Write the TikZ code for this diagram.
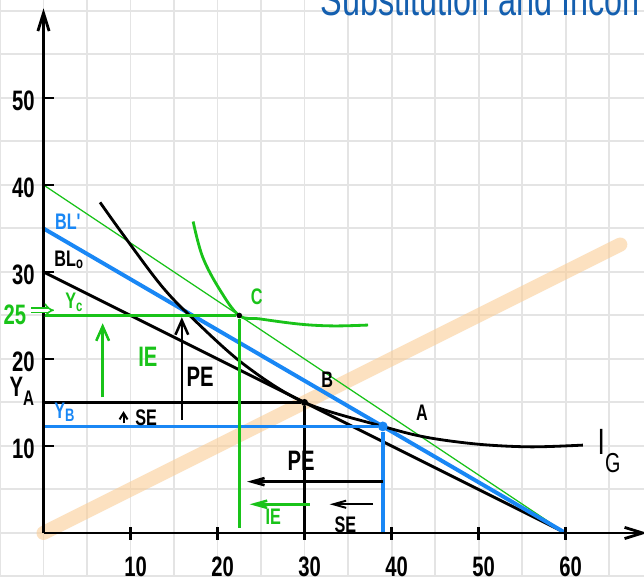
\documentclass[tikz,border=0pt]{standalone}
\usepackage{fontspec}
\newfontfamily\handfont[FakeStretch=0.72]{Liberation Sans}
\usetikzlibrary{arrows.meta}
\definecolor{hgreen}{RGB}{25,195,25}
\definecolor{hblue}{RGB}{25,135,245}
\definecolor{titleblue}{RGB}{20,95,175}
\definecolor{peach}{RGB}{250,205,150}
\definecolor{gridgray}{RGB}{228,228,228}

\begin{document}
\begin{tikzpicture}[
    x=0.2175cm, y=0.2175cm,
    font=\handfont\bfseries\fontsize{20}{22}\selectfont,
    gridline/.style={draw=gridgray, line width=1.4pt},
    axis/.style={line width=2pt, -{Straight Barb[length=4.5mm, width=2.8mm]}},
    tickmark/.style={line width=2pt},
    budget/.style={line width=2.1pt},
    budgetb/.style={hblue, line width=2.8pt},
    budgetg/.style={hgreen, line width=0.9pt},
    guide/.style={line width=2pt},
    guideb/.style={hblue, line width=2.4pt},
    guideg/.style={hgreen, line width=2pt},
    incpath/.style={peach, opacity=0.6, line width=10pt, line cap=round},
    icurve/.style={line width=2pt},
    icurveg/.style={hgreen, line width=2pt},
    dot/.style={circle, fill, inner sep=0pt, minimum size=5pt},
    uparr/.style={line width=1.8pt, -{Straight Barb[length=3.6mm, width=3.2mm]}},
    leftarr/.style={line width=1.8pt, -{Straight Barb[length=3.2mm, width=1.8mm]}},
    implarr/.style={hgreen, line width=1.1pt, double distance=2.2pt, -{Implies}},
    lbl/.style={inner sep=0pt},
    lblsmall/.style={inner sep=0pt, font=\handfont\bfseries\fontsize{16}{18}\selectfont},
    titletext/.style={titleblue, inner sep=0pt, font=\handfont\fontsize{32}{34}\selectfont}
]

% ---- frame and grid ----
\useasboundingbox (-5,-5.52) rectangle (69.02,61.26);
\clip (-5,-5.52) rectangle (69.02,61.26);
\fill[white] (-5,-5.52) rectangle (69.02,61.26);
\draw[gridline, step=5] (-5,-5) grid (69.5,61.5);

\node[titletext, anchor=base west] (title) at (31.8,59.5) {Substitution and Income};

% ---- points ----
\coordinate (O) at (0,0);
\coordinate (ytop) at (0,60.3);
\coordinate (xend) at (69.4,0);
\coordinate (y40) at (0,40);
\coordinate (y35) at (0,35);
\coordinate (y30) at (0,30);
\coordinate (x60) at (60,0);
\coordinate (yC) at (0,25);
\coordinate (yA) at (0,15);
\coordinate (yB) at (0,12.25);
\coordinate (pathend) at (66.3,33.15);

% ---- income path ----
\draw[incpath] (O) -- (pathend);

% ---- budget lines ----
\draw[budgetg] (y40) -- (x60);
\draw[budget] (y30) -- (x60);
\draw[budgetb] (y35) -- (x60);

% ---- indifference curves ----
\draw[icurve] plot[smooth, tension=0.55] coordinates {(6.5,38) (9,34.5) (13.4,28.6) (16.8,25) (23,19.4) (30,15) (39,12.25) (44,11) (50,10.2) (56,9.9) (62,10.1)};
\draw[icurveg] plot[smooth, tension=0.6] coordinates {(17.2,35.8) (18.3,31.7) (20.3,27.9) (22.5,25) (24.9,24.6) (29.5,24.0) (33.3,23.8) (37.3,23.9)};

% ---- optimum points ----
\node[dot, minimum size=5pt] (B) at (30,15) {};
\node[dot, minimum size=4pt] (C) at (22.5,25) {};
\node[dot, hblue, minimum size=7pt] (Ab) at (39,12.25) {};
\coordinate (Bfoot) at (30,-0.6);
\coordinate (Cfoot) at (22.5,0.6);
\coordinate (Abfoot) at (39,0);

\draw[guide] (yA) -- (B);
\draw[guide] (B) -- (Bfoot);
\draw[guideb] (yB) -- (Ab);
\draw[guideb] (Ab) -- (Abfoot);
\draw[guideg] (yC) -- (C);
\draw[guideg] (C) -- (Cfoot);

% ---- axes ----
\draw[axis] (O) -- (ytop);
\draw[axis] (O) -- (xend);
\foreach \x in {10,20,...,60} {
    \draw[tickmark] (\x,-0.8) -- (\x,0.7);
    \node[lbl] (xl\x) at (\x+0.6,-3.9) {\x};
}
\foreach \y in {10,20,...,50} {
    \draw[tickmark] (-0.2,\y) -- (1.2,\y);
    \node[lbl] (yl\y) at (-2.3,\y-0.3) {\y};
}

% ---- effect arrows ----
\coordinate (peLow) at (15.9,13);
\coordinate (peHigh) at (15.9,24.8);
\coordinate (ieLow) at (6.8,15.6);
\coordinate (ieHigh) at (6.8,24.1);
\coordinate (seLow) at (9.2,12.6);
\coordinate (seHigh) at (9.2,14);
\draw[uparr] (peLow) -- (peHigh);
\draw[uparr, hgreen] (ieLow) -- (ieHigh);
\draw[uparr, line width=1.4pt, {-Straight Barb[length=1.6mm, width=2mm]}] (seLow) -- (seHigh);

\coordinate (pxR) at (39,5.9);
\coordinate (pxL) at (23.4,5.9);
\coordinate (ixR) at (30.6,3.3);
\coordinate (ixL) at (23.7,3.3);
\coordinate (sxR) at (37.9,3.3);
\coordinate (sxL) at (32.9,3.3);
\draw[leftarr] (pxR) -- (pxL);
\draw[leftarr, hgreen] (ixR) -- (ixL);
\draw[leftarr, line width=1.4pt] (sxR) -- (sxL);

% ---- labels ----
\node[lblsmall, hblue] (blp) at (2.8,35.8) {BL'};
\node[lblsmall] (blo) at (2.9,31.4) {BL\raisebox{-0.2ex}{\scalebox{0.7}{o}}};
\node[lbl, hgreen] (v25) at (-3.3,25.1) {25};
\coordinate (impL) at (-1.4,25.6);
\coordinate (impR) at (1.2,25.6);
\draw[implarr] (impL) -- (impR);
\node[lblsmall, hgreen] (yc) at (3.5,26.5) {Y\raisebox{-0.2ex}{\scalebox{0.7}{c}}};
\node[lbl, hgreen] (ieUp) at (12,20.3) {IE};
\node[lbl] (peUp) at (18,18) {PE};
\node[lbl] (ya) at (-2.5,16.3) {Y\raisebox{-0.6ex}{\scalebox{0.75}{A}}};
\node[lblsmall, hblue] (yb) at (2.4,13.9) {Y\raisebox{-0.3ex}{\scalebox{0.8}{B}}};
\node[lblsmall] (seUp) at (11.8,13.3) {SE};
\node[lblsmall] (labB) at (32.6,17.6) {B};
\node[lblsmall, hgreen] (labC) at (24.5,27.2) {C};
\node[lblsmall] (labA) at (43.5,13.8) {A};
\node[lbl, font=\handfont\fontsize{26}{28}\selectfont] (ig) at (65,9.4) {I\raisebox{-0.9ex}{\scalebox{0.75}{G}}};
\node[lbl] (peLeft) at (29.6,8.3) {PE};
\node[lblsmall, hgreen] (ieLeft) at (26.4,1.9) {IE};
\node[lblsmall] (seLeft) at (34.7,1.0) {SE};

\end{tikzpicture}
\end{document}
